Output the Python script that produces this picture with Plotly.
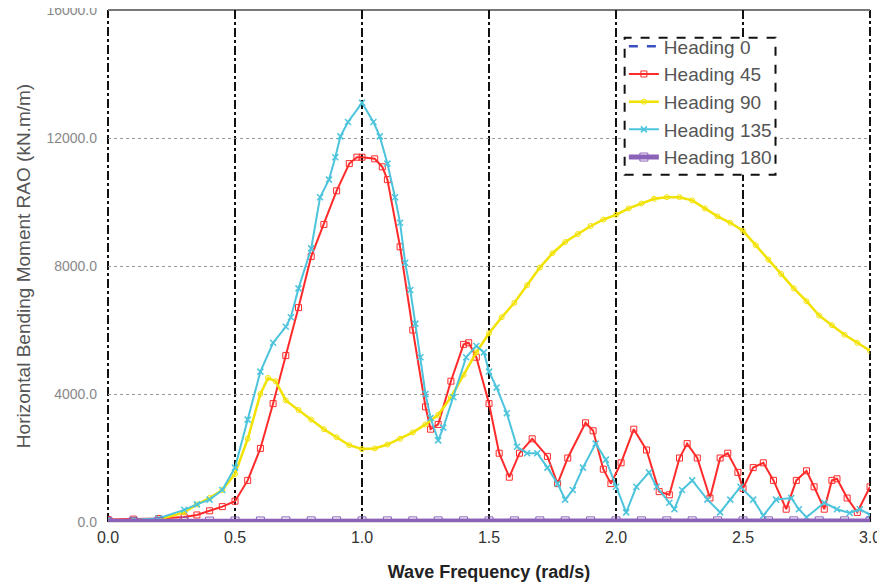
import plotly.graph_objects as go

# ---------------- data ----------------
freq_flat = [0.0, 0.1, 0.2, 0.3, 0.4, 0.5, 0.6, 0.7, 0.8, 0.9, 1.0, 1.1, 1.2, 1.3, 1.4, 1.5,
             1.6, 1.7, 1.8, 1.9, 2.0, 2.1, 2.2, 2.3, 2.4, 2.5, 2.6, 2.7, 2.8, 2.9, 3.0]
heading0 = [10, 10, 12, 15, 18, 20, 22, 25, 25, 25, 25, 25, 25, 25, 25, 25,
            25, 25, 25, 25, 25, 25, 25, 25, 25, 25, 25, 25, 25, 25, 25]
heading180 = [20, 20, 22, 25, 28, 30, 32, 35, 35, 35, 35, 35, 35, 35, 35, 35,
              35, 35, 35, 35, 35, 35, 35, 35, 35, 35, 35, 35, 35, 35, 35]

freq_45 = [0.0, 0.1, 0.2, 0.3, 0.35, 0.4, 0.45, 0.5, 0.55, 0.6, 0.65, 0.7, 0.75, 0.8, 0.85, 0.9,
           0.95, 0.98, 1.0, 1.05, 1.08, 1.1, 1.15, 1.2, 1.25, 1.27, 1.3, 1.35, 1.4, 1.42, 1.45,
           1.5, 1.54, 1.58, 1.62, 1.67, 1.73, 1.77, 1.81, 1.88, 1.91, 1.95, 1.98, 2.02, 2.07,
           2.12, 2.17, 2.21, 2.25, 2.28, 2.32, 2.37, 2.41, 2.44, 2.48, 2.5, 2.54, 2.58, 2.62,
           2.67, 2.71, 2.75, 2.78, 2.82, 2.85, 2.87, 2.91, 2.95, 3.0]
heading45 = [80, 90, 110, 160, 220, 350, 480, 650, 1300, 2300, 3700, 5200, 6700, 8300, 9300, 10350,
             11200, 11400, 11400, 11350, 11100, 10700, 8600, 6000, 3600, 2900, 3050, 4400, 5550, 5600, 5150,
             3700, 2150, 1400, 2150, 2600, 2050, 1200, 2000, 3100, 2850, 1650, 1200, 1850, 2900,
             2250, 950, 850, 2000, 2450, 2000, 750, 2000, 2150, 1550, 1050, 1700, 1850, 1300,
             400, 1300, 1600, 1100, 400, 1300, 1350, 750, 300, 1100]

freq_90 = [0.0, 0.1, 0.2, 0.3, 0.35, 0.4, 0.45, 0.5, 0.55, 0.6, 0.63, 0.66, 0.7, 0.75, 0.8, 0.85,
           0.9, 0.95, 1.0, 1.05, 1.1, 1.15, 1.2, 1.25, 1.3, 1.35, 1.4, 1.45, 1.5, 1.55, 1.6, 1.65,
           1.7, 1.75, 1.8, 1.85, 1.9, 1.95, 2.0, 2.05, 2.1, 2.15, 2.2, 2.25, 2.3, 2.35, 2.4, 2.45,
           2.5, 2.55, 2.6, 2.65, 2.7, 2.75, 2.8, 2.85, 2.9, 2.95, 3.0]
heading90 = [30, 40, 80, 300, 550, 750, 1000, 1500, 2600, 4000, 4500, 4400, 3800, 3500, 3200, 2900,
             2650, 2400, 2280, 2300, 2420, 2600, 2800, 3050, 3350, 3900, 4600, 5300, 5900, 6400, 6850, 7400,
             7950, 8400, 8750, 9000, 9250, 9450, 9600, 9800, 9950, 10100, 10150, 10150, 10050, 9800, 9550, 9350,
             9100, 8650, 8200, 7750, 7300, 6900, 6450, 6150, 5850, 5600, 5350]

freq_135 = [0.0, 0.1, 0.2, 0.3, 0.35, 0.4, 0.45, 0.5, 0.55, 0.6, 0.65, 0.7, 0.72, 0.75, 0.8, 0.835,
            0.87, 0.895, 0.915, 0.945, 1.0, 1.045, 1.07, 1.1, 1.13, 1.15, 1.17, 1.19, 1.21, 1.23,
            1.25, 1.27, 1.3, 1.32, 1.36, 1.41, 1.45, 1.48, 1.5, 1.53, 1.57, 1.61, 1.65, 1.69, 1.73,
            1.77, 1.8, 1.83, 1.87, 1.92, 1.96, 2.0, 2.04, 2.08, 2.13, 2.16, 2.21, 2.23, 2.26, 2.3,
            2.36, 2.41, 2.45, 2.49, 2.54, 2.58, 2.63, 2.69, 2.72, 2.75, 2.82, 2.87, 2.92, 2.96, 3.0]
heading135 = [60, 70, 120, 380, 550, 700, 1000, 1700, 3200, 4700, 5600, 6100, 6400, 7300, 8550, 10150,
              10700, 11400, 12050, 12500, 13100, 12500, 12050, 11200, 10150, 9350, 8100, 7250, 6200, 5150,
              4000, 3250, 2550, 2950, 3900, 5150, 5500, 5300, 4700, 4200, 3400, 2350, 2150, 2150, 1700,
              1200, 700, 1000, 1700, 2450, 1950, 1100, 300, 1100, 1550, 1100, 600, 400, 1000, 1300,
              700, 300, 700, 1100, 700, 200, 700, 750, 400, 150, 600, 400, 280, 400, 220]

x_ticks = [0.0, 0.5, 1.0, 1.5, 2.0, 2.5, 3.0]
y_ticks = [0, 4000, 8000, 12000, 16000]

# ---------------- figure ----------------
fig = go.Figure()

fig.add_trace(go.Scatter(x=freq_flat, y=heading0, name="Heading 0", mode="lines",
                         line=dict(color="#3a4fc0", width=2.5, dash="dash")))
fig.add_trace(go.Scatter(x=freq_45, y=heading45, name="Heading 45", mode="lines+markers",
                         line=dict(color="#ff2a2a", width=2),
                         marker=dict(symbol="square-open", size=6, color="#ff2a2a")))
fig.add_trace(go.Scatter(x=freq_90, y=heading90, name="Heading 90", mode="lines+markers",
                         line=dict(color="#f2e200", width=2.5),
                         marker=dict(symbol="circle-open", size=5, color="#f2e200")))
fig.add_trace(go.Scatter(x=freq_135, y=heading135, name="Heading 135", mode="lines+markers",
                         line=dict(color="#4cc4dc", width=2),
                         marker=dict(symbol="x-thin-open", size=6, color="#4cc4dc",
                                     line=dict(color="#4cc4dc", width=1.5))))
fig.add_trace(go.Scatter(x=freq_flat, y=heading180, name="Heading 180", mode="lines+markers",
                         line=dict(color="#8a62b8", width=5),
                         marker=dict(symbol="square-open", size=8, color="#8a62b8")))

# dashed legend frame
fig.add_shape(type="rect", xref="paper", yref="paper",
              x0=0.678, x1=0.876, y0=0.678, y1=0.946,
              line=dict(color="#111111", width=2, dash="dash"),
              fillcolor="white", layer="above")

# dash-dot lines on the left and right plot edges
for xe in (0, 1):
    fig.add_shape(type="line", xref="paper", yref="paper", x0=xe, x1=xe, y0=0, y1=1,
                  line=dict(color="#111111", width=2, dash="dashdot"), layer="below")

fig.update_layout(
    width=885, height=588,
    margin=dict(l=100, r=23, t=2, b=74),
    paper_bgcolor="white", plot_bgcolor="white",
    font=dict(family="Liberation Sans, Arial, sans-serif", color="#333333"),
    showlegend=True,
    legend=dict(x=0.677, y=0.966, xanchor="left", yanchor="top",
                bgcolor="rgba(0,0,0,0)", borderwidth=0,
                font=dict(size=19, color="#555555"),
                itemwidth=30, tracegroupgap=0),
    xaxis=dict(range=[0, 3.0], tickvals=x_ticks, tickformat=".1f", automargin=False,
               showgrid=True, gridcolor="#111111", gridwidth=2, griddash="dashdot",
               zeroline=False, showline=False, ticks="", ticklabelstandoff=4,
               tickfont=dict(size=16, color="#333333", family="Liberation Sans, Arial, sans-serif"),
               title=dict(text="<b>Wave Frequency (rad/s)</b>", font=dict(size=18, color="#222222"),
                          standoff=20)),
    yaxis=dict(range=[0, 16000], tickvals=y_ticks, tickformat=".1f", automargin=False,
               showgrid=True, gridcolor="#999999", gridwidth=1, griddash="dot",
               zeroline=False, showline=False, ticks="", ticklabelstandoff=10,
               ticklabeloverflow="allow",
               tickfont=dict(size=14, color="#888888"),
               title=dict(text="Horizontal Bending Moment RAO (kN.m/m)",
                          font=dict(size=19, color="#555555"), standoff=10)),
)

fig.add_shape(type="line", xref="paper", yref="paper", x0=0, x1=1, y0=1, y1=1,
              line=dict(color="#777777", width=2), layer="below")
fig.add_shape(type="line", xref="paper", yref="paper", x0=0, x1=1, y0=0, y1=0,
              line=dict(color="#bbbbbb", width=1), layer="below")

fig.write_html("out.html")
